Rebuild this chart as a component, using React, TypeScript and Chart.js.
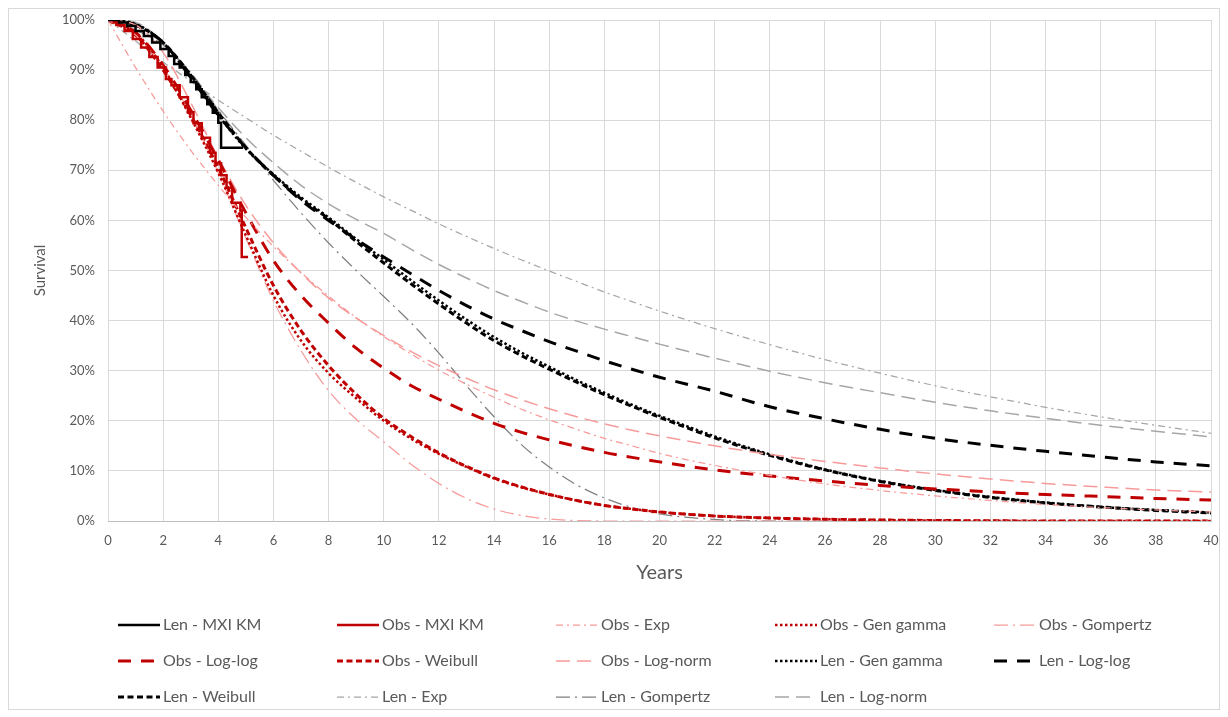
import React, { useEffect, useRef } from "react";
import { Chart, registerables } from "chart.js";

Chart.register(...registerables);

// ---------- data ----------
const LEN_KM_T = [0, 0.4, 0.7, 1.0, 1.3, 1.6, 1.9, 2.2, 2.4, 2.6, 2.8, 3.0, 3.2, 3.4, 3.6, 3.8, 4.0, 4.1, 4.9];
const LEN_KM_S = [100, 99.5, 98.8, 97.8, 96.8, 95.5, 94.2, 92.8, 91.2, 90.5, 89, 87.6, 86.2, 84.6, 83.2, 81.5, 79.5, 74.5, 74.5];

const OBS_KM_T = [0, 0.3, 0.6, 0.9, 1.2, 1.5, 1.8, 2.1, 2.3, 2.6, 2.9, 3.1, 3.4, 3.7, 3.9, 4.1, 4.3, 4.5, 4.8, 4.85, 5.08];
const OBS_KM_S = [100, 99, 97.8, 96.2, 94.5, 92.6, 90.5, 88.2, 87.0, 84.6, 81.6, 79.4, 76.5, 73.5, 71.4, 69.0, 66.5, 63.5, 62, 52.7, 52.7];

const YEARS = [0, 1, 2, 3, 4, 5, 6, 7, 8, 9, 10, 11, 12, 13, 14, 15, 16, 17, 18, 19, 20, 22, 24, 26, 28, 30, 32, 34, 36, 38, 40];

const OBS_EXP = [100, 90.5, 81.8, 74, 67, 60.6, 54.8, 49.6, 44.9, 40.6, 36.8, 33.3, 30.1, 27.3, 24.7, 22.3, 20.2, 18.3, 16.5, 15, 13.5, 11.1, 9.1, 7.4, 6.1, 5, 4.1, 3.3, 2.7, 2.2, 1.8];
const OBS_GENGAMMA = [100, 97.5, 90.5, 80.5, 69.5, 57, 45, 36, 29.5, 24.5, 20, 16.4, 13.4, 10.8, 8.5, 6.7, 5.3, 4.1, 3.1, 2.4, 1.8, 1.0, 0.6, 0.35, 0.2, 0.1, 0.05, 0, 0, 0, 0];
const OBS_GOMPERTZ = [100, 97, 90.5, 81, 69.5, 56.5, 44, 34, 26, 20.3, 15.8, 11.3, 7.5, 4.5, 2.4, 1.1, 0.4, 0.1, 0, 0, 0, 0, 0, 0, 0, 0, 0, 0, 0, 0, 0];
const OBS_LOGLOG = [100, 97.5, 91, 82, 72, 61.5, 52, 45, 39.5, 34.5, 30.5, 27, 24.3, 21.8, 19.5, 17.7, 16.2, 14.9, 13.7, 12.7, 11.8, 10.2, 9, 8, 7.1, 6.4, 5.8, 5.3, 4.9, 4.5, 4.2];
const OBS_WEIBULL = [100, 97, 90, 81, 70.5, 58.5, 47, 38, 31, 25.3, 20.5, 16.8, 13.6, 10.9, 8.6, 6.8, 5.3, 4.1, 3.1, 2.4, 1.8, 1.0, 0.6, 0.35, 0.2, 0.1, 0.05, 0, 0, 0, 0];
const OBS_LOGNORM = [100, 99, 93.5, 83.5, 72.5, 63, 55.5, 49.5, 44.5, 40.5, 37, 33.8, 31, 28.5, 26.2, 24.2, 22.4, 20.8, 19.4, 18.1, 17, 15, 13.3, 11.9, 10.6, 9.4, 8.4, 7.5, 6.8, 6.2, 5.8];
const LEN_GENGAMMA = [100, 99.2, 95.5, 88.5, 81, 74.3, 69.2, 64.6, 60.6, 56.3, 52.2, 48, 44, 40.2, 36.7, 33.6, 30.8, 28.1, 25.6, 23.2, 21, 16.9, 13.3, 10.3, 8, 6.2, 4.8, 3.7, 2.8, 2.2, 1.7];
const LEN_LOGLOG = [100, 99, 95.5, 88.5, 81, 74.5, 69, 64, 60, 56.2, 52.7, 49.3, 46, 43, 40.3, 38, 35.8, 33.9, 32, 30.3, 28.7, 25.9, 22.8, 20.4, 18.3, 16.5, 15.1, 13.9, 12.8, 11.8, 11];
const LEN_WEIBULL = [100, 99, 95.5, 89, 81.5, 74.5, 69, 64.3, 60.3, 55.8, 51.5, 47.3, 43.3, 39.5, 36, 33, 30.3, 27.7, 25.2, 22.9, 20.7, 16.6, 13.1, 10.2, 7.9, 6.1, 4.7, 3.6, 2.8, 2.1, 1.6];
const LEN_EXP = [100, 95.8, 91.6, 87.8, 84, 80.5, 77, 73.8, 70.6, 67.6, 64.7, 62, 59.3, 56.8, 54.4, 52.1, 49.9, 47.8, 45.7, 43.8, 41.9, 38.4, 35.2, 32.2, 29.5, 27, 24.8, 22.7, 20.8, 19.1, 17.5];
const LEN_GOMPERTZ = [100, 98, 95, 89.5, 82, 75, 68, 61.5, 55.5, 50, 44.8, 39.5, 33.5, 27, 20.8, 15.2, 10.8, 7.2, 4.6, 2.7, 1.4, 0.3, 0, 0, 0, 0, 0, 0, 0, 0, 0];
const LEN_LOGNORM = [100, 99.5, 95.5, 89, 82.5, 76.5, 71.5, 67, 63.3, 60.2, 57.4, 54.2, 51.2, 48.5, 46, 43.8, 41.7, 39.9, 38.3, 36.8, 35.3, 32.5, 29.9, 27.6, 25.6, 23.7, 22, 20.5, 19.1, 17.9, 16.8];

const X_TICKS = [0, 2, 4, 6, 8, 10, 12, 14, 16, 18, 20, 22, 24, 26, 28, 30, 32, 34, 36, 38, 40];

// ---------- styles ----------
const BLACK = "#000000";
const RED = "#C00000";
const PINK = "#F79A9A";
const GRAY = "#A6A6A6";
const DGRAY = "#808080";

const DASH_DOT = [7, 4, 2, 4];
const LONG_DASH_DOT = [14, 5, 2, 5];
const LONG_DASH_THIN = [14, 7];
const LONG_DASH_THICK = [13, 10];
const DASH_THICK = [6, 3.5];
const DOT = [2.5, 2.5];

const FONT = "Lato, 'Open Sans', sans-serif";

function pts(t: number[], s: number[]) {
  return t.map((x, i) => ({ x, y: s[i] }));
}

function curve(label: string, values: number[], color: string, width: number, dash: number[]) {
  return {
    label,
    data: pts(YEARS, values),
    borderColor: color,
    backgroundColor: color,
    borderWidth: width,
    borderDash: dash,
    showLine: true,
    pointRadius: 0,
    cubicInterpolationMode: "monotone" as const,
    fill: false,
  };
}

function km(label: string, t: number[], s: number[], color: string) {
  return {
    label,
    data: pts(t, s),
    borderColor: color,
    backgroundColor: color,
    borderWidth: 2.5,
    borderDash: [],
    showLine: true,
    pointRadius: 0,
    stepped: true,
    borderJoinStyle: "miter" as const,
    fill: false,
  };
}

const legendPlugin = {
  id: "gridLegend",
  afterDraw(chart: any) {
    const ctx = chart.ctx;
    const x0 = 109;
    const dx = 219;
    const y0 = 616;
    const dy = 36;
    chart.data.datasets.forEach((ds: any, k: number) => {
      const col = k % 5;
      const row = Math.floor(k / 5);
      const x = x0 + col * dx;
      const y = y0 + row * dy;
      ctx.save();
      ctx.strokeStyle = ds.borderColor;
      ctx.lineWidth = ds.borderWidth;
      ctx.setLineDash(ds.borderDash || []);
      ctx.beginPath();
      ctx.moveTo(x, y);
      ctx.lineTo(x + 42, y);
      ctx.stroke();
      ctx.setLineDash([]);
      ctx.fillStyle = "#595959";
      ctx.font = `16px ${FONT}`;
      ctx.textBaseline = "middle";
      ctx.textAlign = "left";
      ctx.fillText(ds.label, x + 45, y);
      ctx.restore();
    });
  },
};

export default function App() {
  const ref = useRef<HTMLCanvasElement | null>(null);

  useEffect(() => {
    if (!ref.current) return;
    const datasets = [
      km("Len - MXI KM", LEN_KM_T, LEN_KM_S, BLACK),
      km("Obs - MXI KM", OBS_KM_T, OBS_KM_S, RED),
      curve("Obs - Exp", OBS_EXP, PINK, 1.25, DASH_DOT),
      curve("Obs - Gen gamma", OBS_GENGAMMA, RED, 2.5, DOT),
      curve("Obs - Gompertz", OBS_GOMPERTZ, PINK, 1.25, LONG_DASH_DOT),
      curve("Obs - Log-log", OBS_LOGLOG, RED, 3, LONG_DASH_THICK),
      curve("Obs - Weibull", OBS_WEIBULL, RED, 3, DASH_THICK),
      curve("Obs - Log-norm", OBS_LOGNORM, PINK, 1.5, LONG_DASH_THIN),
      curve("Len - Gen gamma", LEN_GENGAMMA, BLACK, 2.5, DOT),
      curve("Len - Log-log", LEN_LOGLOG, BLACK, 3, LONG_DASH_THICK),
      curve("Len - Weibull", LEN_WEIBULL, BLACK, 3, DASH_THICK),
      curve("Len - Exp", LEN_EXP, GRAY, 1.25, DASH_DOT),
      curve("Len - Gompertz", LEN_GOMPERTZ, DGRAY, 1.25, LONG_DASH_DOT),
      curve("Len - Log-norm", LEN_LOGNORM, GRAY, 1.5, LONG_DASH_THIN),
    ];

    const chart = new Chart(ref.current, {
      type: "scatter",
      data: { datasets: datasets as any },
      options: {
        animation: false,
        responsive: false,
        layout: { padding: { left: 0, right: 8, top: 11, bottom: 124 } },
        plugins: {
          legend: { display: false },
          tooltip: { enabled: false },
        },
        scales: {
          x: {
            type: "linear",
            min: 0,
            max: 40,
            afterFit: (s: any) => {
              s.height = 64;
              s.paddingLeft = 0;
              s.paddingRight = 0;
            },
            afterBuildTicks: (s: any) => {
              s.ticks = X_TICKS.map((v) => ({ value: v }));
            },
            ticks: {
              color: "#595959",
              font: { family: FONT, size: 13 },
              padding: 12,
              maxRotation: 0,
              autoSkip: false,
            },
            grid: { color: "#D9D9D9", lineWidth: 1, drawTicks: false },
            border: { display: true, color: "#BFBFBF" },
            title: {
              display: true,
              text: "Years",
              color: "#595959",
              font: { family: FONT, size: 20 },
              padding: { top: 0, bottom: 0 },
            },
          },
          y: {
            type: "linear",
            min: 0,
            max: 100,
            afterFit: (s: any) => {
              s.width = 99;
              s.paddingTop = 0;
              s.paddingBottom = 0;
            },
            ticks: {
              stepSize: 10,
              color: "#595959",
              font: { family: FONT, size: 13 },
              padding: 13,
              callback: (v: any) => `${v}%`,
            },
            grid: { color: "#D9D9D9", lineWidth: 1, drawTicks: false },
            border: { display: false },
            title: {
              display: true,
              text: "Survival",
              color: "#595959",
              font: { family: FONT, size: 15 },
              padding: { top: 22, bottom: 0 },
            },
          },
        },
      },
      plugins: [legendPlugin],
    });

    return () => chart.destroy();
  }, []);

  return (
    <div
      style={{
        width: 1212,
        height: 702,
        boxSizing: "border-box",
        border: "1px solid #D9D9D9",
        background: "#fff",
      }}
    >
      <canvas ref={ref} width={1210} height={700} style={{ display: "block" }} />
    </div>
  );
}
